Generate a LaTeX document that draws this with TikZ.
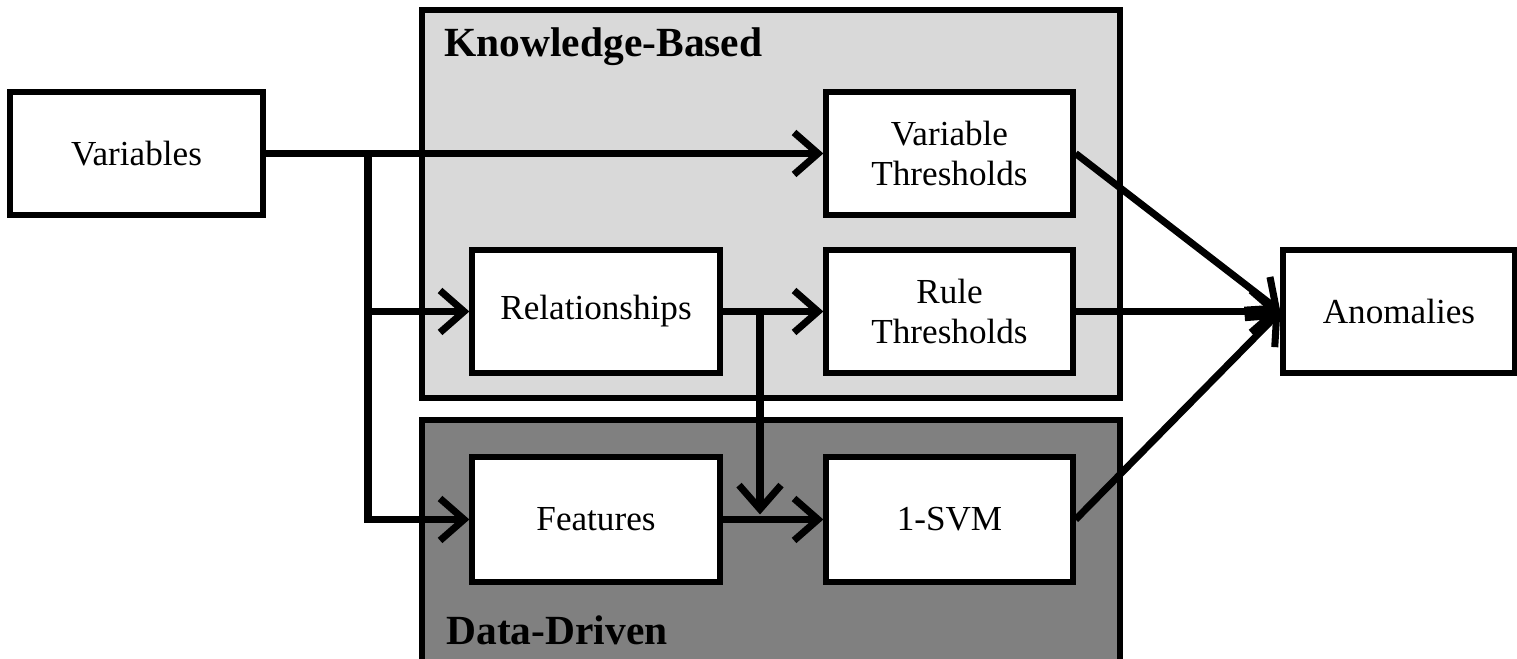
\documentclass[tikz,border=0pt]{standalone}
\usepackage{fontspec}
\setmainfont{Liberation Serif}
\usetikzlibrary{arrows.meta}

\begin{document}
\begin{tikzpicture}[
	box/.style={draw, fill=white, line width=1.5pt, minimum width=2.48cm, minimum height=1.23cm, align=center, font=\fontsize{10}{11.4}\selectfont},
	group/.style={draw, line width=1.7pt},
	title/.style={anchor=west, font=\fontsize{11.8}{14}\selectfont\bfseries},
	flow/.style={line width=2pt, -{Straight Barb[length=2.4mm, width=4.2mm, line width=2pt]}},
	line/.style={line width=2pt}]
	\useasboundingbox (0,0) rectangle (15.17,-6.59);
	\draw[group, fill={rgb,255:red,217;green,217;blue,217}] (4.22,-0.10) rectangle (11.20,-3.98);
	\draw[group, fill={rgb,255:red,128;green,128;blue,128}] (4.22,-4.20) rectangle (11.20,-7.00);
	\node[title] (kb) at (4.32,-0.47) {Knowledge-Based};
	\node[title] (dd) at (4.34,-6.30) {Data-Driven};
	\node[box, minimum width=2.53cm] (var) at (1.365,-1.535) {Variables};
	\node[box, minimum width=2.47cm] (vthr) at (9.495,-1.535) {Variable\\Thresholds};
	\node[box] (rel) at (5.96,-3.115) {Relationships};
	\node[box, minimum width=2.47cm] (rthr) at (9.495,-3.115) {Rule\\Thresholds};
	\node[box, minimum width=2.32cm] (anom) at (13.99,-3.115) {Anomalies};
	\node[box, minimum height=1.25cm] (feat) at (5.96,-5.195) {Features};
	\node[box, minimum width=2.47cm, minimum height=1.25cm] (svm) at (9.495,-5.195) {1-SVM};
	\coordinate (b1) at (3.68,-1.535);
	\coordinate (b2) at (7.60,-3.115);
	\draw[flow] (var) -- (vthr);
	\draw[flow] (b1) |- (rel);
	\draw[flow] (b1) |- (feat);
	\draw[flow] (rel) -- (rthr);
	\draw[flow, shorten >=0.5mm] (b2) -- (b2 |- feat.center);
	\draw[flow] (feat) -- (svm);
	\draw[flow] (vthr.east) -- (anom.west);
	\draw[flow] (rthr) -- (anom);
	\draw[flow] (svm.east) -- (anom.west);
\end{tikzpicture}
\end{document}
